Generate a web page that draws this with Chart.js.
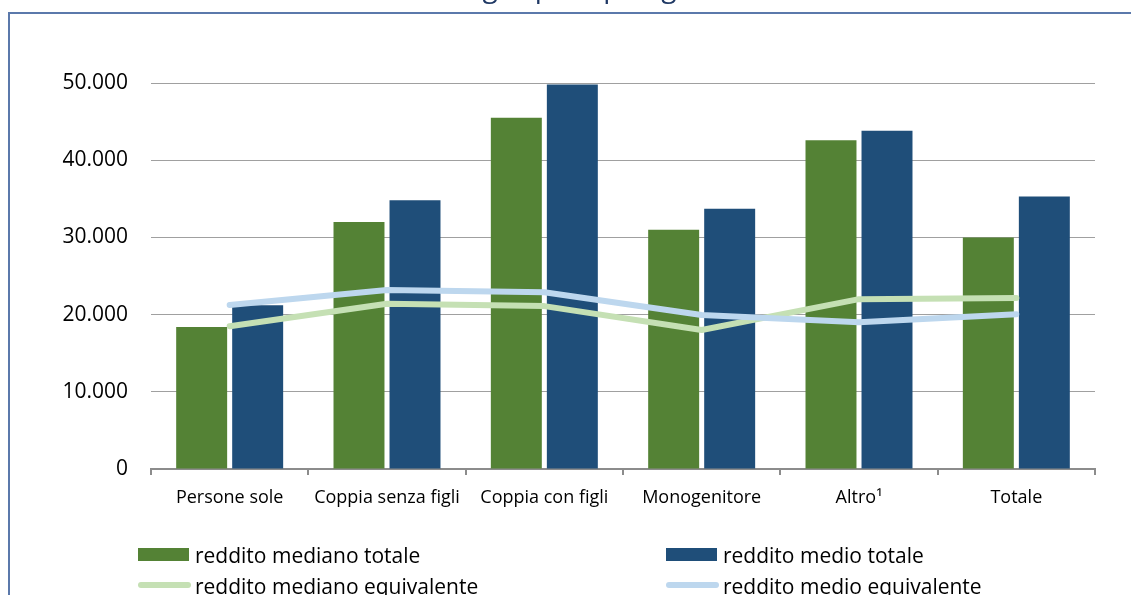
<!DOCTYPE html>
<html>
<head>
<meta charset="utf-8">
<script src="https://cdn.jsdelivr.net/npm/chart.js@4/dist/chart.umd.min.js"></script>
<style>
  html, body { margin: 0; padding: 0; background: #ffffff; overflow: hidden; }
  canvas { display: block; }
</style>
</head>
<body>
<canvas id="c" width="1131" height="595"></canvas>
<script>
const titleText = 'Reddito delle famiglie per tipologia familiare';
const categories = ['Persone sole', 'Coppia senza figli', 'Coppia con figli', 'Monogenitore', 'Altro\u00B9', 'Totale'];
const seriesNames = ['reddito mediano totale', 'reddito medio totale', 'reddito mediano equivalente', 'reddito medio equivalente'];
const medianoTotale = [18400, 32000, 45500, 31000, 42600, 30000];
const medioTotale = [21200, 34800, 49800, 33700, 43800, 35300];
const medianoEquivalente = [18500, 21400, 21100, 18000, 22000, 22150];
const medioEquivalente = [21250, 23200, 22900, 19950, 19000, 20050];
const yTicks = [0, 10000, 20000, 30000, 40000, 50000];

const FONT = '"Open Sans", "DejaVu Sans", sans-serif';

function fmt(v) {
  return String(Math.round(v)).replace(/\B(?=(\d{3})+(?!\d))/g, '.');
}

const framePlugin = {
  id: 'frame',
  beforeDraw(chart) {
    const ctx = chart.ctx;
    ctx.save();
    ctx.fillStyle = '#ffffff';
    ctx.fillRect(0, 0, chart.width, chart.height);
    ctx.fillStyle = '#5B79AB';
    ctx.fillRect(8, 12, chart.width, 2);
    ctx.fillRect(8, 12, 2, chart.height);
    // partially visible title
    ctx.fillStyle = '#1F3864';
    ctx.font = '28px ' + FONT;
    ctx.textAlign = 'left';
    ctx.textBaseline = 'alphabetic';
    ctx.fillText(titleText, 246, -3);
    ctx.restore();
  }
};

const legendPlugin = {
  id: 'customLegend',
  afterDraw(chart) {
    const ctx = chart.ctx;
    const ds = chart.data.datasets;
    const cols = [138, 666];
    const rows = [563, 594];
    ctx.save();
    ctx.font = '21px ' + FONT;
    ctx.textAlign = 'left';
    ctx.textBaseline = 'alphabetic';
    ds.forEach((d, i) => {
      const x = cols[i % 2];
      const yb = rows[Math.floor(i / 2)];
      if (d.type === 'line') {
        ctx.strokeStyle = d.borderColor;
        ctx.lineWidth = 6;
        ctx.lineCap = 'round';
        ctx.beginPath();
        ctx.moveTo(x + 3, yb - 9);
        ctx.lineTo(x + 50, yb - 9);
        ctx.stroke();
      } else {
        ctx.fillStyle = d.backgroundColor;
        ctx.fillRect(x, yb - 15, 51, 13);
      }
      ctx.fillStyle = '#000000';
      ctx.fillText(d.label, x + 57, yb);
    });
    ctx.restore();
  }
};

new Chart(document.getElementById('c'), {
  type: 'bar',
  data: {
    labels: categories,
    datasets: [
      { type: 'bar', label: seriesNames[0], data: medianoTotale, backgroundColor: '#548235', order: 2,
        categoryPercentage: 0.712, barPercentage: 0.91 },
      { type: 'bar', label: seriesNames[1], data: medioTotale, backgroundColor: '#1F4E79', order: 2,
        categoryPercentage: 0.712, barPercentage: 0.91 },
      { type: 'line', label: seriesNames[2], data: medianoEquivalente, borderColor: '#C5E0B4', backgroundColor: '#C5E0B4',
        borderWidth: 6, pointRadius: 0, tension: 0, fill: false, order: 1, borderCapStyle: 'round', borderJoinStyle: 'round' },
      { type: 'line', label: seriesNames[3], data: medioEquivalente, borderColor: '#BDD7EE', backgroundColor: '#BDD7EE',
        borderWidth: 6, pointRadius: 0, tension: 0, fill: false, order: 0, borderCapStyle: 'round', borderJoinStyle: 'round' }
    ]
  },
  options: {
    responsive: false,
    animation: false,
    devicePixelRatio: 1,
    layout: { padding: { top: 83, right: 36, left: 0, bottom: 0 } },
    plugins: {
      legend: { display: false },
      tooltip: { enabled: false },
      title: { display: false }
    },
    scales: {
      x: {
        offset: true,
        grid: { display: true, drawOnChartArea: false, drawTicks: true, tickLength: 6, color: '#8C8C8C', lineWidth: 2, offset: true },
        border: { display: true, color: '#8C8C8C', width: 2 },
        ticks: { color: '#000000', font: { family: FONT, size: 18 }, padding: 12, maxRotation: 0, autoSkip: false },
        afterFit(s) { s.height = 126; }
      },
      y: {
        min: yTicks[0],
        max: yTicks[yTicks.length - 1],
        afterBuildTicks(s) { s.ticks = yTicks.map(v => ({ value: v })); },
        grid: { color: '#A0A0A0', lineWidth: 1, drawTicks: false },
        border: { display: false },
        ticks: { color: '#000000', font: { family: FONT, size: 21 }, padding: 23, callback: v => fmt(v) },
        afterFit(s) { s.width = 151; }
      }
    }
  },
  plugins: [framePlugin, legendPlugin]
});
</script>
</body>
</html>
